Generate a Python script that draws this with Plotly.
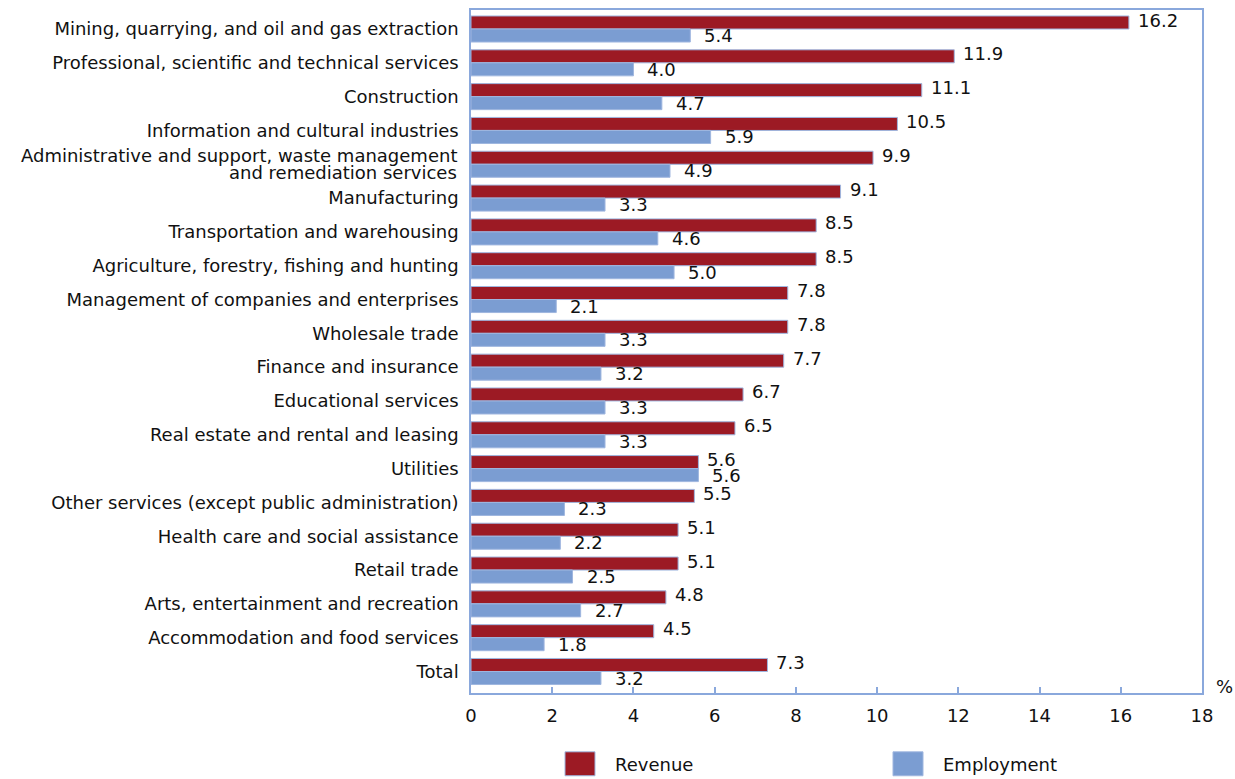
import plotly.graph_objects as go

industries = [
    "Mining, quarrying, and oil and gas extraction",
    "Professional, scientific and technical services",
    "Construction",
    "Information and cultural industries",
    "Administrative and support, waste management and remediation services",
    "Manufacturing",
    "Transportation and warehousing",
    "Agriculture, forestry, fishing and hunting",
    "Management of companies and enterprises",
    "Wholesale trade",
    "Finance and insurance",
    "Educational services",
    "Real estate and rental and leasing",
    "Utilities",
    "Other services (except public administration)",
    "Health care and social assistance",
    "Retail trade",
    "Arts, entertainment and recreation",
    "Accommodation and food services",
    "Total",
]
revenue = [16.2, 11.9, 11.1, 10.5, 9.9, 9.1, 8.5, 8.5, 7.8, 7.8,
           7.7, 6.7, 6.5, 5.6, 5.5, 5.1, 5.1, 4.8, 4.5, 7.3]
employment = [5.4, 4.0, 4.7, 5.9, 4.9, 3.3, 4.6, 5.0, 2.1, 3.3,
              3.2, 3.3, 3.3, 5.6, 2.3, 2.2, 2.5, 2.7, 1.8, 3.2]
x_ticks = [0, 2, 4, 6, 8, 10, 12, 14, 16, 18]

# the long category name is drawn on two tightly spaced lines
wrapped = {
    "Administrative and support, waste management and remediation services":
        ["Administrative and support, waste management",
         "and remediation services"],
}

RED = "#9c1a24"
BLUE = "#7b9dd2"
EDGE = "#9fb6df"
AXIS = "#8aa8dc"
FONT = "DejaVu Sans"
FS = 18

fig = go.Figure()
fig.add_trace(go.Bar(
    name="Revenue", y=industries, x=revenue, orientation="h",
    marker=dict(color=RED, line=dict(color=EDGE, width=1)),
))
fig.add_trace(go.Bar(
    name="Employment", y=industries, x=employment, orientation="h",
    marker=dict(color=BLUE, line=dict(color=EDGE, width=1)),
))

annotations = []

# value labels at the end of each bar
for cat, r, e in zip(industries, revenue, employment):
    annotations.append(dict(x=r, y=cat, text=f"{r:.1f}", xanchor="left",
                            yanchor="middle", xshift=7, yshift=9,
                            showarrow=False, font=dict(size=FS, color="#111")))
    annotations.append(dict(x=e, y=cat, text=f"{e:.1f}", xanchor="left",
                            yanchor="middle", xshift=12, yshift=-6.5,
                            showarrow=False, font=dict(size=FS, color="#111")))

# two-line category labels
tick_text = []
for cat in industries:
    if cat in wrapped:
        tick_text.append("")
        for line, dy in zip(wrapped[cat], (8.5, -8.5)):
            annotations.append(dict(x=0, y=cat, xref="paper", text=line,
                                    xanchor="right", yanchor="middle",
                                    xshift=-12, yshift=dy, showarrow=False,
                                    font=dict(size=FS, color="#111")))
    else:
        tick_text.append(cat)

# axis unit
annotations.append(dict(x=1, y=0, xref="paper", yref="paper", text="%",
                        xanchor="left", yanchor="bottom", xshift=12, yshift=-6,
                        showarrow=False, font=dict(size=FS, color="#111")))

# legend
legend_items = [("Revenue", RED, 565), ("Employment", BLUE, 893)]
shapes = []
for label, color, px in legend_items:
    shapes.append(dict(type="rect", xref="paper", yref="paper",
                       x0=(px - 471) / 731, x1=(px + 30 - 471) / 731,
                       y0=-(776 - 693) / 685, y1=-(752 - 693) / 685,
                       fillcolor=color, line=dict(color=EDGE, width=1)))
    annotations.append(dict(x=(px + 48 - 471) / 731, y=-(765 - 693) / 685,
                            xref="paper", yref="paper", text=label,
                            xanchor="left", yanchor="middle", showarrow=False,
                            font=dict(size=FS, color="#111")))

fig.update_layout(
    width=1235, height=779,
    margin=dict(l=471, r=33, t=8, b=86),
    paper_bgcolor="white", plot_bgcolor="white",
    barmode="group", bargap=0.23, bargroupgap=0,
    showlegend=False,
    font=dict(family=FONT, size=FS, color="#111"),
    annotations=annotations, shapes=shapes,
)
fig.update_xaxes(
    range=[0, 18], tickvals=x_ticks, showgrid=False, zeroline=False,
    showline=True, linecolor=AXIS, linewidth=1.5, mirror=True,
    ticks="inside", ticklen=6, tickcolor=AXIS, tickwidth=1.5,
    ticklabelstandoff=6,
    tickfont=dict(size=FS, color="#111"),
)
fig.update_yaxes(
    autorange="reversed", showgrid=False, zeroline=False,
    showline=True, linecolor=AXIS, linewidth=1.5, mirror=True,
    tickmode="array", tickvals=industries, ticktext=tick_text,
    ticks="", ticklabelstandoff=7,
    tickfont=dict(size=FS, color="#111"),
)

fig.write_html("out.html")
